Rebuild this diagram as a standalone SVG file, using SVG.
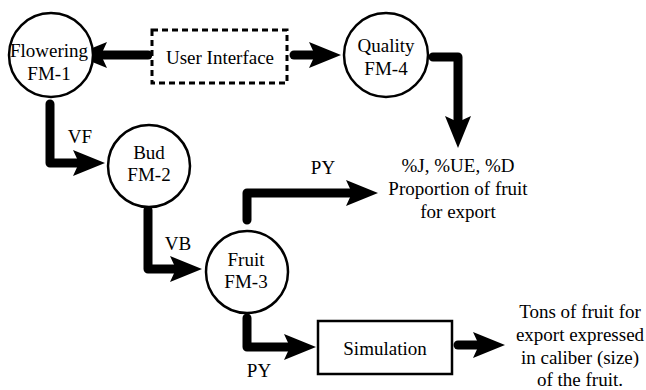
<svg xmlns="http://www.w3.org/2000/svg" width="646" height="390" viewBox="0 0 646 390">
<defs>
<style>
text{font-family:"Liberation Serif","DejaVu Serif",serif;font-size:19px;fill:#000;text-anchor:middle}
.node{fill:#fff;stroke:#000;stroke-width:2.5}
.dash{fill:#fff;stroke:#000;stroke-width:3;stroke-dasharray:6 4}
.conn{fill:none;stroke:#000;stroke-width:9;stroke-linecap:round;stroke-linejoin:round;marker-end:url(#ah)}
</style>
<marker id="ah" viewBox="0 0 32 26" refX="6" refY="13" markerWidth="32" markerHeight="26" orient="auto" markerUnits="userSpaceOnUse">
<path d="M0,0 L32,13 L0,26 L6,13 Z" fill="#000"/>
</marker>
</defs>
<rect width="646" height="390" fill="#fff"/>
<g id="connectors">
<path class="conn" d="M148,55 H101"/>
<path class="conn" d="M294,55 H315"/>
<path class="conn" d="M433,57 H458 V122"/>
<path class="conn" d="M50,104 V163 H79"/>
<path class="conn" d="M148,210 V269 H176"/>
<path class="conn" d="M247,220 V193 H352"/>
<path class="conn" d="M247,318 V347 H290"/>
<path class="conn" d="M458,345 H479"/>
</g>
<g font-family="'Liberation Serif', 'DejaVu Serif', serif">
<g id="flowering">
<circle class="node" cx="51" cy="55" r="42"/>
<text x="49" y="57">Flowering</text>
<text x="49" y="80">FM-1</text>
</g>
<g id="user-interface">
<rect class="dash" x="152" y="30" width="135" height="53"/>
<text x="220" y="64">User Interface</text>
</g>
<g id="quality">
<circle class="node" cx="386" cy="55" r="42"/>
<text x="386" y="52">Quality</text>
<text x="386" y="75">FM-4</text>
</g>
<g id="bud">
<circle class="node" cx="149" cy="166" r="41"/>
<text x="149" y="159">Bud</text>
<text x="149" y="181">FM-2</text>
</g>
<g id="fruit">
<circle class="node" cx="247" cy="272" r="41"/>
<text x="246" y="266">Fruit</text>
<text x="246" y="288">FM-3</text>
</g>
<g id="simulation">
<rect class="node" x="318" y="321" width="134" height="53"/>
<text x="385" y="355">Simulation</text>
</g>
<g id="labels">
<text x="80" y="143">VF</text>
<text x="178" y="250">VB</text>
<text x="323" y="174">PY</text>
<text x="259" y="377">PY</text>
</g>
<g id="proportion-output">
<text x="458" y="172">%J, %UE, %D</text>
<text x="458" y="195">Proportion of fruit</text>
<text x="458" y="218">for export</text>
</g>
<g id="tons-output">
<text x="580" y="318">Tons of fruit for</text>
<text x="580" y="341">export expressed</text>
<text x="580" y="364">in caliber (size)</text>
<text x="580" y="386">of the fruit.</text>
</g>
</g>
</svg>
